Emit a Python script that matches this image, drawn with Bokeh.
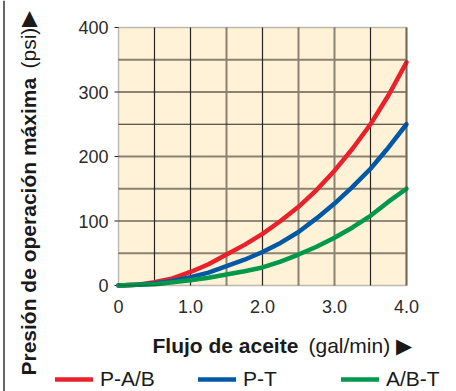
import math
from bokeh.plotting import figure
from bokeh.models import Range1d, Legend, LegendItem, BoxAnnotation, Span
from bokeh.core.properties import value
from bokeh.embed import file_html
from bokeh.resources import INLINE

# ---- data ----
flow = [0, 0.25, 0.5, 0.75, 1.0, 1.25, 1.5, 1.75, 2.0, 2.25, 2.5, 2.75, 3.0, 3.25, 3.5, 3.75, 4.0]
p_ab = [0, 1, 5, 11, 21, 33, 48, 63, 80, 100, 122, 148, 178, 212, 250, 295, 346]
p_t = [0, 1, 3, 7, 13, 20, 30, 40, 52, 66, 83, 104, 127, 153, 181, 214, 250]
ab_t = [0, 1, 2, 5, 8, 12, 17, 22, 28, 37, 48, 60, 74, 90, 108, 130, 150]
series_names = ["P-A/B", "P-T", "A/B-T"]
series_colors = ["#e8212b", "#0058a6", "#00994c"]
x_ticks = [0, 1, 2, 3, 4]
x_tick_labels = ["0", "1.0", "2.0", "3.0", "4.0"]
y_ticks = [0, 100, 200, 300, 400]
y_tick_labels = ["0", "100", "200", "300", "400"]
x_grid_light = [1.5, 2.5, 3.0]
x_grid_dark = [0.5, 1.0, 2.0, 3.5]
y_grid_light = [50, 150, 200, 300, 350]
y_grid_dark = [100, 250]
x_lo, x_hi = 0, 4
y_lo, y_hi = 0, 400

# ---- layout (pixels) ----
W, H = 456, 391
FX0, FY0 = 118, 285          # canvas px of the plot origin (x=0, y=0)
KX, KY = 72.0, 0.645          # px per data unit
FONT = "Liberation Sans"


def dx(px):  # horizontal px offset -> data units
    return px / KX


def dy(py):  # vertical px offset -> data units
    return py / KY


p = figure(width=W, height=H, output_backend="svg", toolbar_location=None,
           x_axis_type=None, y_axis_type=None,
           x_range=Range1d(-FX0 / KX, (W - FX0) / KX),
           y_range=Range1d(-(H - FY0) / KY, FY0 / KY),
           min_border=0, background_fill_color="white", border_fill_color="white",
           outline_line_color=None)
p.grid.visible = False

# plot area background
p.add_layout(BoxAnnotation(left=x_lo, right=x_hi, bottom=y_lo, top=y_hi, level="underlay",
                           fill_color="#fff2d6", fill_alpha=1, line_color=None))

# grid lines limited to the plot area
def vgrid(xs, color, width):
    p.segment(x0=xs, x1=xs, y0=[y_lo] * len(xs), y1=[y_hi] * len(xs), line_color=color, line_width=width)


def hgrid(ys, color, width):
    p.segment(x0=[x_lo] * len(ys), x1=[x_hi] * len(ys), y0=ys, y1=ys, line_color=color, line_width=width)


vgrid(x_grid_light, "#8c8273", 2)
hgrid(y_grid_light, "#8c8273", 2)
vgrid(x_grid_dark, "#2a2520", 1.2)
hgrid(y_grid_dark, "#2a2520", 1.2)
# right edge (grey) and frame
vgrid([x_hi], "#8c8273", 2.2)
p.add_layout(BoxAnnotation(left=x_lo, right=x_hi, bottom=y_lo, top=y_hi, level="overlay",
                           fill_alpha=0, line_color="#2a2520", line_width=1.4))
# outer left border line
p.add_layout(Span(location=-FX0 / KX + dx(3.5), dimension="height", line_color="#333333", line_width=1.5))

# y ticks
p.segment(x0=[-dx(4)] * len(y_ticks), x1=[0] * len(y_ticks), y0=y_ticks, y1=y_ticks,
          line_color="#2a2520", line_width=1.2)
# tick labels
p.text(x=[-dx(10)] * len(y_ticks), y=y_ticks, text=y_tick_labels, text_align="right",
       text_baseline="middle", text_font=value(FONT), text_font_size="18px", text_color="#2b2b2b")
p.text(x=x_ticks, y=[-dy(21)] * len(x_ticks), text=x_tick_labels, text_align="center",
       text_baseline="middle", text_font=value(FONT), text_font_size="18px", text_color="#2b2b2b")

# curves
renderers = []
for ys, c in zip([p_ab, p_t, ab_t], series_colors):
    r = p.line(flow, ys, line_color=c, line_width=4.5, line_cap="round", line_join="round")
    renderers.append(r)

# axis titles
p.text(x=[dx(34)], y=[-dy(60)], text=["Flujo de aceite"], text_align="left", text_baseline="middle",
       text_font=value(FONT), text_font_style="bold", text_font_size="21px", text_color="#1a1a1a")
p.text(x=[dx(190)], y=[-dy(60)], text=["(gal/min) \u25B6"], text_align="left", text_baseline="middle",
       text_font=value(FONT), text_font_size="21px", text_color="#1a1a1a")
p.text(x=[-dx(90)], y=[-dy(90)], text=["Presión de operación máxima"], angle=math.pi / 2,
       text_align="left", text_baseline="middle",
       text_font=value(FONT), text_font_style="bold", text_font_size="21px", text_color="#1a1a1a")
p.text(x=[-dx(90)], y=[dy(217)], text=["(psi)"], angle=math.pi / 2,
       text_align="left", text_baseline="middle",
       text_font=value(FONT), text_font_size="21px", text_color="#1a1a1a")
p.text(x=[-dx(91)], y=[dy(267)], text=["\u25B6"], angle=math.pi / 2,
       text_align="center", text_baseline="middle",
       text_font=value(FONT), text_font_size="21px", text_color="#1a1a1a")

legend = Legend(items=[LegendItem(label=n, renderers=[r]) for n, r in zip(series_names, renderers)],
                orientation="horizontal", location=(55, 0),
                padding=0, margin=0, spacing=8, glyph_width=38, glyph_height=20,
                label_height=20, label_width=90, label_standoff=7,
                label_text_font=FONT, label_text_font_size="21px", label_text_color="#1a1a1a",
                background_fill_alpha=0, border_line_alpha=0)
p.add_layout(legend, "center")

open("out.html", "w").write(file_html(p, INLINE))
